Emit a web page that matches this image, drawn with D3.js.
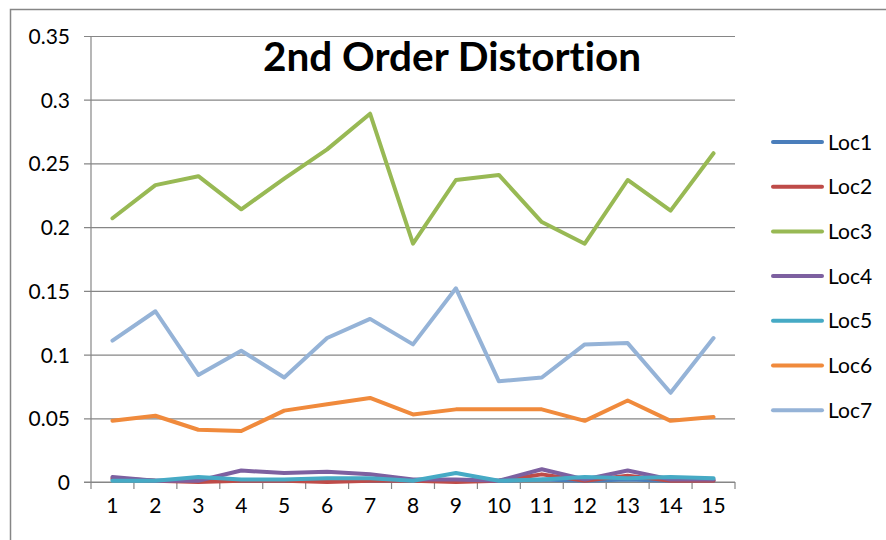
<!DOCTYPE html>
<html>
<head>
<meta charset="utf-8">
<script src="https://cdn.jsdelivr.net/npm/d3@7"></script>
<style>
  body { margin: 0; background: #fff; }
  svg text { font-family: Lato, "Open Sans", sans-serif; fill: #000; font-variant-ligatures: none; }
</style>
</head>
<body>
<div id="chart"></div>
<script>
// chart values
const categories = [1, 2, 3, 4, 5, 6, 7, 8, 9, 10, 11, 12, 13, 14, 15];
const seriesNames = ['Loc1', 'Loc2', 'Loc3', 'Loc4', 'Loc5', 'Loc6', 'Loc7'];
const loc1 = [0.002, 0.001, 0.001, 0.001, 0.001, 0.001, 0.001, 0.001, 0.001, 0.001, 0.002, 0.001, 0.002, 0.001, 0.001];
const loc2 = [0.003, 0.001, 0.000, 0.001, 0.001, 0.000, 0.001, 0.001, 0.000, 0.001, 0.006, 0.001, 0.005, 0.001, 0.001];
const loc3 = [0.207, 0.233, 0.240, 0.214, 0.238, 0.261, 0.289, 0.187, 0.237, 0.241, 0.204, 0.187, 0.237, 0.213, 0.258];
const loc4 = [0.004, 0.001, 0.001, 0.009, 0.007, 0.008, 0.006, 0.002, 0.002, 0.001, 0.010, 0.002, 0.009, 0.002, 0.002];
const loc5 = [0.001, 0.001, 0.004, 0.002, 0.002, 0.003, 0.003, 0.001, 0.007, 0.001, 0.002, 0.004, 0.003, 0.004, 0.003];
const loc6 = [0.048, 0.052, 0.041, 0.040, 0.056, 0.061, 0.066, 0.053, 0.057, 0.057, 0.057, 0.048, 0.064, 0.048, 0.051];
const loc7 = [0.111, 0.134, 0.084, 0.103, 0.082, 0.113, 0.128, 0.108, 0.152, 0.079, 0.082, 0.108, 0.109, 0.070, 0.113];
const yTicks = [0, 0.05, 0.1, 0.15, 0.2, 0.25, 0.3, 0.35];
const seriesColors = ['#4a7ebb', '#be4b48', '#98b954', '#7d60a0', '#46aac5', '#f08a3c', '#95b3d7'];

const allSeries = [loc1, loc2, loc3, loc4, loc5, loc6, loc7];

const W = 886, H = 540;
const plot = { left: 91, right: 735, top: 36, bottom: 482 };

const svg = d3.select('#chart').append('svg')
  .attr('width', W).attr('height', H);

// outer chart frame (runs off the right and bottom of the picture)
svg.append('rect')
  .attr('x', 10.5).attr('y', 9.5)
  .attr('width', W).attr('height', H)
  .attr('fill', '#fff')
  .attr('stroke', '#868686').attr('stroke-width', 1.5);

const x = d3.scaleBand().domain(categories).range([plot.left, plot.right]);
const y = d3.scaleLinear().domain([0, 0.35]).range([plot.bottom, plot.top]);

// horizontal gridlines + y axis
const yAxis = d3.axisLeft(y).tickValues(yTicks)
  .tickSize(7).tickPadding(14)
  .tickFormat(d => d3.format('~g')(+d.toFixed(2)));

const gy = svg.append('g')
  .attr('transform', `translate(${plot.left},0)`)
  .call(yAxis);
gy.select('.domain').remove();
gy.selectAll('.tick line')
  .attr('x1', -7).attr('x2', plot.right - plot.left)
  .attr('stroke', '#868686').attr('stroke-width', 1.2);
gy.selectAll('.tick text')
  .style('font-size', '21px').attr('dy', '0.36em');

svg.append('line')
  .attr('x1', plot.left).attr('x2', plot.left)
  .attr('y1', plot.top).attr('y2', plot.bottom)
  .attr('stroke', '#868686').attr('stroke-width', 1.2);

// x axis, ticks between categories
const gx = svg.append('g')
  .attr('transform', `translate(0,${plot.bottom})`);
gx.append('line')
  .attr('x1', plot.left - 7).attr('x2', plot.right)
  .attr('stroke', '#868686').attr('stroke-width', 1.2);
const tickEdges = categories.map(c => x(c)).concat([plot.right]);
gx.selectAll('line.tk').data(tickEdges).enter().append('line')
  .attr('class', 'tk')
  .attr('x1', d => d).attr('x2', d => d)
  .attr('y1', 0).attr('y2', 7)
  .attr('stroke', '#868686').attr('stroke-width', 1.2);
gx.selectAll('text').data(categories).enter().append('text')
  .attr('x', d => x(d) + x.bandwidth() / 2)
  .attr('y', 31)
  .attr('text-anchor', 'middle')
  .style('font-size', '21px')
  .text(d => d);

// series lines
const line = d3.line()
  .x((d, i) => x(categories[i]) + x.bandwidth() / 2)
  .y(d => y(d));

svg.append('g').selectAll('path')
  .data(allSeries).enter().append('path')
  .attr('d', line)
  .attr('fill', 'none')
  .attr('stroke', (d, i) => seriesColors[i])
  .attr('stroke-width', 4)
  .attr('stroke-linejoin', 'round')
  .attr('stroke-linecap', 'round');

// title, fitted to the width it takes in the picture
const title = svg.append('text')
  .attr('x', 452).attr('y', 71)
  .attr('text-anchor', 'middle')
  .style('font-weight', 'bold')
  .style('font-size', '34px')
  .text('2nd Order Distortion');
const tw = title.node().getComputedTextLength();
title.style('font-size', (34 * 378 / tw).toFixed(1) + 'px');

// legend
const legend = svg.append('g');
const rows = legend.selectAll('g').data(seriesNames).enter().append('g')
  .attr('transform', (d, i) => `translate(773,${142 + i * 44.7})`);
rows.append('line')
  .attr('x1', 0).attr('x2', 49)
  .attr('stroke', (d, i) => seriesColors[i])
  .attr('stroke-width', 4)
  .attr('stroke-linecap', 'round');
rows.append('text')
  .attr('x', 55).attr('dy', '0.36em')
  .style('font-size', '21px')
  .text(d => d);
</script>
</body>
</html>
